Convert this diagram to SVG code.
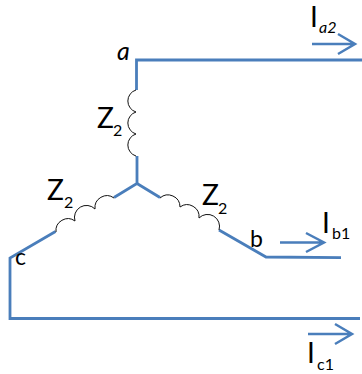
<svg xmlns="http://www.w3.org/2000/svg" width="362" height="374" viewBox="0 0 362 374">
<style>
.w{fill:none;stroke:#4a7ebb;stroke-width:2.8;stroke-linejoin:miter}
.r{fill:none;stroke:#4a7ebb;stroke-width:2.5}
.c{fill:none;stroke:#111;stroke-width:1}
text{font-family:Lato,"Open Sans",sans-serif;fill:#000}
.m{font-size:28px}.s{font-size:16px}.l{font-size:23px}.i{font-style:italic}
</style>
<rect width="362" height="374" fill="#fff"/>
<g id="connectors">
<path class="w" d="M362 60H136.500V90M137 156V183.500L114 197.500M55.500 231.500L10 258V318.500H360"/>
<path class="w" d="M137 183.500L160 197.500M219 230L266 257L341 257.700"/>
<path class="r" d="M312 44H355M338 34L355 44L338 54"/>
<path class="r" d="M280 242.500H324M306 233L324 242.500L306 252"/>
<path class="r" d="M308 334H352M335 324L352 334L335 344"/>
</g>
<g id="inductor-a">
<path class="c" d="M136 90A11.500 11.500 0 0 0 136 112A11.500 11.500 0 0 0 136 134A11.500 11.500 0 0 0 136 156"/>
<text class="m" x="97" y="128">Z</text><text class="s" x="113" y="136">2</text>
</g>
<g id="inductor-c">
<path class="c" d="M114 198A12 12 0 0 0 95 209A12 12 0 0 0 75 221A12 12 0 0 0 56 232"/>
<text class="m" x="47" y="200">Z</text><text class="s" x="64" y="208">2</text>
</g>
<g id="inductor-b">
<path class="c" d="M160 198A12 12 0 0 1 180 207A12 12 0 0 1 199 218A12 12 0 0 1 219 230"/>
<text class="m" x="202" y="205">Z</text><text class="s" x="218" y="214">2</text>
</g>
<g id="node-a"><text class="l i" style="font-size:25px" x="117" y="60">a</text></g>
<g id="node-b"><text class="l" x="250" y="247">b</text></g>
<g id="node-c"><text class="l" x="15" y="265">c</text></g>
<g id="current-a"><text class="m" x="310" y="27">I</text><text class="s i" x="319" y="33">a2</text></g>
<g id="current-b"><text class="m" x="322" y="233">I</text><text class="s" x="332" y="239">b1</text></g>
<g id="current-c"><text class="m" x="307" y="363">I</text><text class="s" x="317" y="370">c1</text></g>
</svg>
